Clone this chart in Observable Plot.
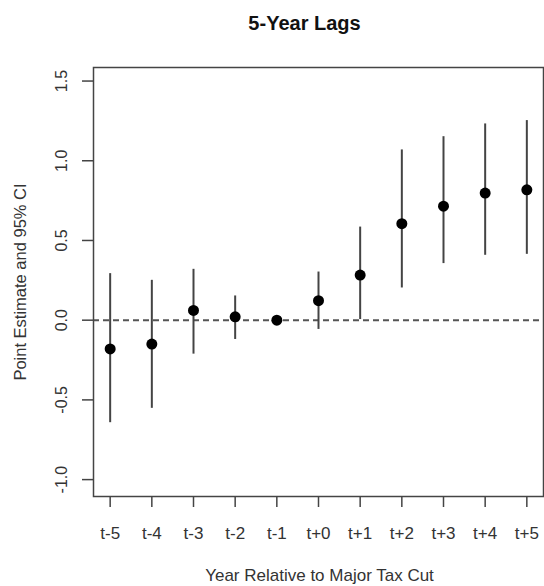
<!DOCTYPE html>
<html>
<head>
<meta charset="utf-8">
<script src="https://cdn.jsdelivr.net/npm/d3@7"></script>
<script src="https://cdn.jsdelivr.net/npm/@observablehq/plot@0.6"></script>
<style>
  html, body { margin: 0; padding: 0; background: #fff; }
</style>
</head>
<body>
<div id="chart"></div>
<script>
const periods = ["t-5", "t-4", "t-3", "t-2", "t-1", "t+0", "t+1", "t+2", "t+3", "t+4", "t+5"];
const estimates = [-0.180, -0.150, 0.061, 0.021, 0.0, 0.122, 0.283, 0.605, 0.715, 0.797, 0.818];
const ciLow = [-0.643, -0.553, -0.213, -0.121, 0.0, -0.058, 0.004, 0.202, 0.355, 0.407, 0.413];
const ciHigh = [0.292, 0.250, 0.319, 0.152, 0.0, 0.302, 0.584, 1.068, 1.151, 1.231, 1.252];
const yTicks = [-1.0, -0.5, 0.0, 0.5, 1.0, 1.5];
const title = "5-Year Lags";
const xLabel = "Year Relative to Major Tax Cut";
const yLabel = "Point Estimate and 95% CI";

const data = periods.map((p, i) => ({idx: i + 1, label: p, est: estimates[i], lo: ciLow[i], hi: ciHigh[i]}));
const xTicks = periods.map((p, i) => i + 1);

const font = "'Liberation Sans', Arial, sans-serif";
const textColor = "#333";

const chart = Plot.plot({
  width: 544,
  height: 586,
  marginLeft: 93,
  marginRight: 1,
  marginTop: 67,
  marginBottom: 90,
  style: {fontFamily: font, fontSize: "17px", color: textColor, background: "#fff"},
  x: {domain: [0.6, 11.4]},
  y: {domain: [-1.106, 1.585]},
  marks: [
    Plot.ruleY([0], {stroke: "#555", strokeWidth: 2, strokeDasharray: "6,4"}),
    Plot.ruleX(data, {x: "idx", y1: "lo", y2: "hi", stroke: "#444", strokeWidth: 2}),
    Plot.dot(data, {x: "idx", y: "est", r: 5.5, fill: "#000", stroke: "none"}),
    Plot.frame({stroke: "#444", strokeWidth: 1.5}),
    Plot.axisY({ticks: yTicks, tickSize: 11, tickFormat: () => "", label: null, stroke: "#444", strokeWidth: 1.5}),
    Plot.text(yTicks, {y: d => d, text: d => d.toFixed(1), frameAnchor: "left", textAnchor: "middle", lineAnchor: "middle", dx: -32, rotate: -90, fontSize: 16, fill: textColor}),
    Plot.axisX({ticks: xTicks, tickSize: 11, tickPadding: 19, tickFormat: d => periods[d - 1], label: null, stroke: "#444", strokeWidth: 1.5, fontSize: 17, fill: textColor}),
    Plot.text([title], {text: d => d, frameAnchor: "top", lineAnchor: "middle", dy: -44, dx: -14, fontSize: 20, fontWeight: "bold", fill: "#111"}),
    Plot.text([xLabel], {text: d => d, frameAnchor: "bottom", lineAnchor: "middle", dy: 79.5, dx: 1, fontSize: 17, fill: textColor}),
    Plot.text([yLabel], {text: d => d, frameAnchor: "left", textAnchor: "middle", lineAnchor: "middle", dx: -73, rotate: -90, fontSize: 16.5, fill: textColor})
  ]
});
document.getElementById("chart").appendChild(chart);
</script>
</body>
</html>
